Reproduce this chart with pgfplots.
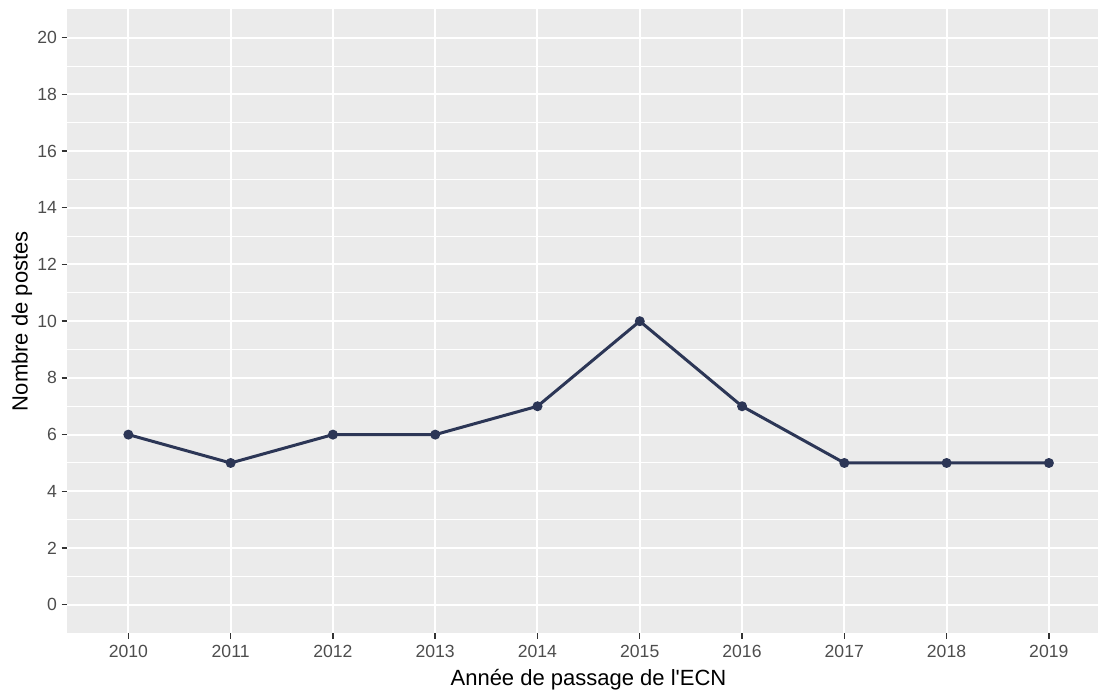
\documentclass[border=0pt]{standalone}
\usepackage{pgfplots}
\pgfplotsset{compat=1.18}
\usepackage{fontspec}
\setmainfont{Liberation Sans}[Ligatures=TeXOff]
\definecolor{panelbg}{HTML}{EBEBEB}
\definecolor{linec}{RGB}{44,54,86}
\definecolor{ticklab}{HTML}{4D4D4D}
\definecolor{tickc}{HTML}{333333}
\begin{document}
\begin{tikzpicture}
\useasboundingbox (-33.5pt,-29pt) rectangle (515.5pt,316.55pt);
\begin{axis}[
  at={(0,0)}, anchor=south west,
  width=515.5pt, height=311.9pt, scale only axis,
  xmin=2009.4, xmax=2019.48, ymin=-1, ymax=21,
  axis background/.style={fill=panelbg},
  axis line style={draw=none},
  xtick={2010,...,2019},
  xticklabels={2010,2011,2012,2013,2014,2015,2016,2017,2018,2019},
  ytick={0,2,...,20}, minor ytick={1,3,...,19},
  grid=both,
  major grid style={white, line width=1pt},
  minor grid style={white, line width=0.5pt},
  tick align=outside, major tick length=2.75pt, minor tick length=0pt,
  tick style={tickc, line width=0.7pt},
  xtick pos=lower, ytick pos=left,
  ticklabel style={font=\fontsize{8.8}{10}\selectfont, text=ticklab},
  yticklabel style={xshift=1.2pt},
  /pgf/number format/assume math mode=true,
  xlabel={Année de passage de l'ECN},
  ylabel={Nombre de postes},
  label style={font=\fontsize{11}{13}\selectfont, text=black},
  xlabel style={at={(axis description cs:0.5058,-0.0744)}, anchor=center},
  ylabel style={at={(axis description cs:-0.0436,0.5)}, anchor=center},
]
\addplot[linec, line width=1.5pt, mark=*, mark size=1.7pt, mark options={solid, fill=linec}]
coordinates {(2010,6) (2011,5) (2012,6) (2013,6) (2014,7) (2015,10) (2016,7) (2017,5) (2018,5) (2019,5)};
\end{axis}
\end{tikzpicture}
\end{document}
